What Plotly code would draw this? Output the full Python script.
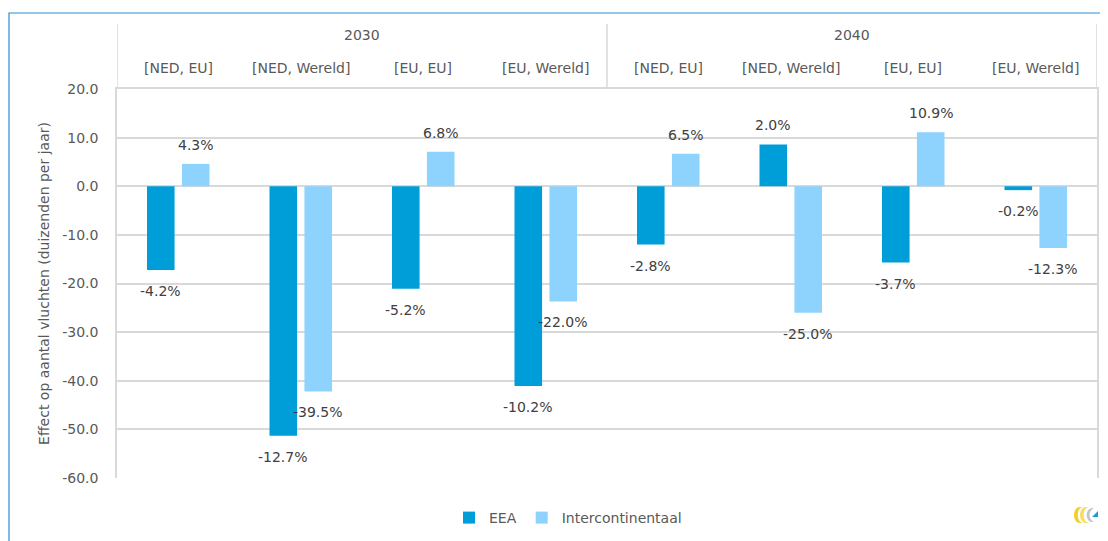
import plotly.graph_objects as go

years = ["2030", "2040"]
routes = ["[NED, EU]", "[NED, Wereld]", "[EU, EU]", "[EU, Wereld]"]
eea = [-17.2, -51.3, -21.1, -41.1, -12.0, 8.6, -15.7, -0.8]
inter = [4.6, -42.2, 7.1, -23.7, 6.7, -26.0, 11.1, -12.7]
eea_pct = ["-4.2%", "-12.7%", "-5.2%", "-10.2%", "-2.8%", "2.0%", "-3.7%", "-0.2%"]
inter_pct = ["4.3%", "-39.5%", "6.8%", "-22.0%", "6.5%", "-25.0%", "10.9%", "-12.3%"]
y_ticks = [20, 10, 0, -10, -20, -30, -40, -50, -60]
y_ticktext = ["20.0", "10.0", "0.0", "-10.0", "-20.0", "-30.0", "-40.0", "-50.0", "-60.0"]

x_year = [y for y in years for _ in routes]
x_route = routes * len(years)
n = len(x_route)

C_EEA = "#009ED8"
C_INT = "#8DD3FE"
GRID = "#D9D9D9"
TXT = "#595959"
FONT = "DejaVu Sans"

OFF = 8  # default page body margin
W, H = 1100, 533
ML, MR, MT, MB = 109, 11, 81, 63
BARGAP = 0.43
BARGROUPGAP = 0.21
plot_w = W - ML - MR
plot_h = H - MT - MB


def px2paper(xp):
    return (xp - OFF - ML) / plot_w


def py2paper(yp):
    return (H - MB - (yp - OFF)) / plot_h


fig = go.Figure()
fig.add_bar(x=[x_year, x_route], y=eea, name="EEA", marker=dict(color=C_EEA, line_width=0))
fig.add_bar(x=[x_year, x_route], y=inter, name="Intercontinentaal", marker=dict(color=C_INT, line_width=0))

cat_px = plot_w / n
offs = cat_px * (1 - BARGAP) / 4

ann = []
for i in range(n):
    for val, lab, sx in ((eea[i], eea_pct[i], -offs), (inter[i], inter_pct[i], offs)):
        ann.append(dict(x=i, y=val, xref="x2", yref="y", text=lab, showarrow=False,
                        xshift=sx, yshift=(19 if val >= 0 else -21), yanchor="middle",
                        font=dict(family=FONT, size=14, color="#404040")))

# header: route labels, year labels
for i in range(n):
    ann.append(dict(x=i, y=py2paper(68), xref="x2", yref="paper", text=x_route[i], showarrow=False,
                    yanchor="middle", font=dict(family=FONT, size=14, color=TXT)))
nr = len(routes)
for k, yr in enumerate(years):
    ann.append(dict(x=k * nr + (nr - 1) / 2, y=py2paper(35), xref="x2", yref="paper", text=yr,
                    showarrow=False, yanchor="middle", font=dict(family=FONT, size=14, color=TXT)))

shapes = []
for k in range(len(years) + 1):
    shapes.append(dict(type="line", xref="x2", yref="paper", x0=k * nr - 0.5, x1=k * nr - 0.5,
                       y0=1, y1=py2paper(24), line=dict(color=GRID, width=1.5)))

shapes.append(dict(type="rect", xref="paper", yref="paper",
                   x0=px2paper(9), x1=px2paper(1200), y0=py2paper(600), y1=py2paper(13),
                   line=dict(color="#2A8FD0", width=1.2), fillcolor="rgba(0,0,0,0)", layer="below"))

# small logo at bottom right
lx, ly = px2paper(1084), py2paper(515)
logo = [
    ("M -4,8 C -12,8 -12,-8 -4,-8 L -1,-8 C -8,-7 -8,7 -1,8 Z", "#F0CF2A"),
    ("M 2,8 C -6,8 -6,-8 2,-8 L 5,-8 C -2,-7 -2,7 5,8 Z", "#F5DF6A"),
    ("M 8,7 C 1,6 1,-6 8,-7 L 10,-7 C 4,-4 4,4 10,7 Z", "#C4C4C4"),
    ("M 8,-2 L 14,-2 L 14,4 Z", "#1E9BD7"),
]
for p, c in logo:
    shapes.append(dict(type="path", xref="paper", yref="paper", xsizemode="pixel", ysizemode="pixel",
                       xanchor=lx, yanchor=ly, path=p, fillcolor=c, line=dict(width=0)))

fig.update_layout(
    width=W, height=H,
    margin=dict(l=ML, r=MR, t=MT, b=MB, autoexpand=False),
    paper_bgcolor="white", plot_bgcolor="white",
    barmode="group", bargap=BARGAP, bargroupgap=BARGROUPGAP,
    font=dict(family=FONT, size=14, color=TXT),
    xaxis=dict(type="multicategory", side="top", showline=True, linecolor=GRID, linewidth=1.5,
               showdividers=False, ticks="", showticklabels=False, showgrid=False,
               range=[-0.5, n - 0.5]),
    xaxis2=dict(overlaying="x", range=[-0.5, n - 0.5], visible=False, side="bottom"),
    yaxis=dict(range=[-60, 20], tickvals=y_ticks, ticktext=y_ticktext, showgrid=True, gridcolor=GRID,
               gridwidth=1.5, zeroline=True, zerolinecolor=GRID, zerolinewidth=1.5, showline=True,
               mirror=True, linecolor=GRID, linewidth=1.5, ticks="", ticklabelstandoff=14,
               tickfont=dict(family=FONT, size=14, color=TXT),
               title=dict(text="Effect op aantal vluchten (duizenden per jaar)", standoff=9,
                          font=dict(family=FONT, size=14, color=TXT))),
    legend=dict(orientation="h", x=px2paper(568), xanchor="center", y=py2paper(518), yanchor="middle",
                font=dict(family=FONT, size=14, color=TXT), itemwidth=30, traceorder="normal"),
    annotations=ann,
    shapes=shapes,
)

fig.write_html("out.html")
